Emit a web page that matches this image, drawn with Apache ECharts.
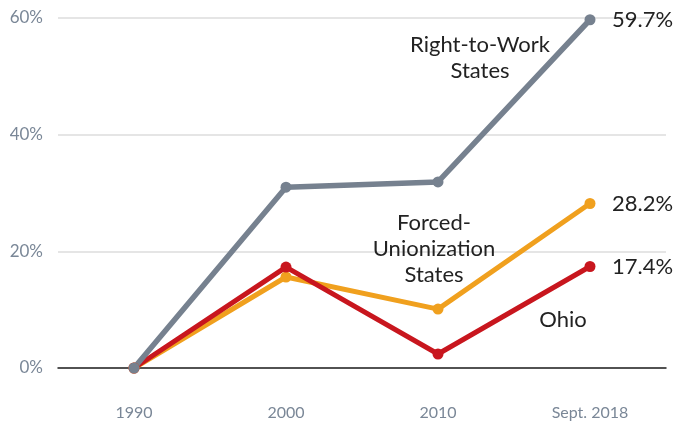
<!DOCTYPE html>
<html>
<head>
<meta charset="utf-8">
<script src="https://cdn.jsdelivr.net/npm/echarts@6/dist/echarts.min.js"></script>
<style>
  html, body { margin: 0; padding: 0; background: #fff; }
  #chart { width: 677px; height: 424px; }
</style>
</head>
<body>
<div id="chart"></div>
<script>
const anos = ['1990', '2000', '2010', 'Sept. 2018'];
const rightToWork = [0, 31.0, 31.9, 59.7];
const forcedUnion = [0, 15.6, 10.1, 28.2];
const ohio = [0, 17.3, 2.4, 17.4];
const yTicks = [0, 20, 40, 60];

const chart = echarts.init(document.getElementById('chart'));

function serie(nome, dados, cor, largura) {
    return {
        name: nome,
        type: 'line',
        data: dados,
        symbol: 'circle',
        symbolSize: 11,
        lineStyle: { width: largura, color: cor },
        itemStyle: { color: cor },
        endLabel: {
            show: true,
            distance: 22,
            color: '#222',
            fontFamily: 'Lato',
            fontSize: 22,
            formatter: p => p.value.toFixed(1) + '%'
        },
        animation: false
    };
}

function rotulo(texto, x, y) {
    return {
        type: 'text', x: x, y: y, z: 10,
        style: {
            text: texto, fontFamily: 'Lato', fontSize: 22, fill: '#222',
            align: 'center', verticalAlign: 'top', lineHeight: 26
        }
    };
}

chart.setOption({
    grid: { left: 58, right: 11, top: 18, bottom: 56 },
    xAxis: {
        type: 'category',
        data: anos,
        boundaryGap: true,
        axisLine: { lineStyle: { color: '#222', width: 1.5 } },
        axisTick: { alignWithLabel: true, length: 29, lineStyle: { color: '#d6d6d6', width: 1.5 } },
        axisLabel: { color: '#7a8797', fontFamily: 'Lato', fontSize: 16, margin: 37 }
    },
    yAxis: {
        type: 'value',
        min: yTicks[0],
        max: yTicks[yTicks.length - 1],
        interval: 20,
        axisLine: { show: false },
        axisTick: { show: false },
        splitLine: { lineStyle: { color: '#dcdcdc', width: 1.5 } },
        axisLabel: { color: '#7a8797', fontFamily: 'Lato', fontSize: 17, margin: 15, formatter: '{value}%' }
    },
    series: [
        serie('Forced-Unionization States', forcedUnion, '#f0a01e', 5),
        serie('Ohio', ohio, '#c8161e', 5),
        serie('Right-to-Work States', rightToWork, '#76818f', 5.5)
    ],
    graphic: [
        rotulo('Right-to-Work\nStates', 480, 32),
        rotulo('Forced-\nUnionization\nStates', 434, 210),
        rotulo('Ohio', 563, 307)
    ]
});
</script>
</body>
</html>
